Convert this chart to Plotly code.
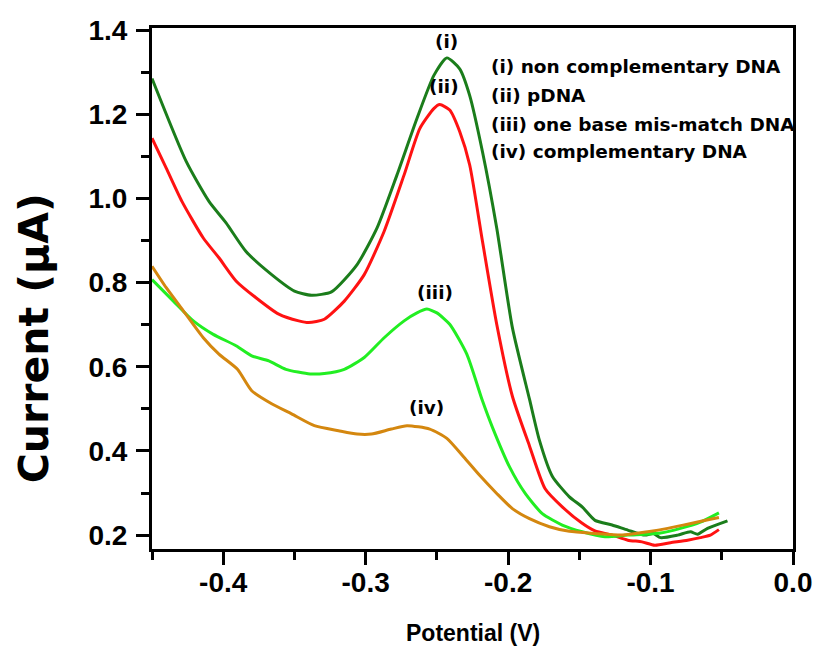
import plotly.graph_objects as go

# ---------------- data ----------------
v_i = [-0.450, -0.426, -0.410, -0.398, -0.384, -0.366, -0.350, -0.338, -0.324, -0.306,
       -0.292, -0.278, -0.264, -0.252, -0.243, -0.234, -0.227, -0.218, -0.208, -0.197,
       -0.185, -0.178, -0.169, -0.157, -0.148, -0.139, -0.127, -0.116, -0.104, -0.098,
       -0.093, -0.081, -0.072, -0.067, -0.060, -0.046]
i_i = [1.285, 1.088, 0.993, 0.942, 0.874, 0.819, 0.780, 0.770, 0.778, 0.843,
       0.930, 1.056, 1.190, 1.293, 1.334, 1.308, 1.245, 1.111, 0.930, 0.693,
       0.523, 0.425, 0.340, 0.291, 0.267, 0.235, 0.224, 0.212, 0.200, 0.204,
       0.194, 0.200, 0.208, 0.202, 0.216, 0.234]

v_ii = [-0.450, -0.440, -0.429, -0.414, -0.403, -0.391, -0.377, -0.361, -0.347, -0.340,
        -0.329, -0.315, -0.301, -0.287, -0.273, -0.262, -0.252, -0.248, -0.241, -0.234,
        -0.227, -0.218, -0.208, -0.197, -0.185, -0.174, -0.162, -0.148, -0.139, -0.127,
        -0.116, -0.106, -0.097, -0.086, -0.074, -0.065, -0.058, -0.052]
i_ii = [1.143, 1.072, 0.993, 0.906, 0.859, 0.804, 0.764, 0.725, 0.709, 0.705,
        0.713, 0.756, 0.819, 0.922, 1.056, 1.166, 1.214, 1.223, 1.210, 1.159,
        1.080, 0.898, 0.701, 0.530, 0.412, 0.310, 0.267, 0.228, 0.210, 0.200,
        0.188, 0.184, 0.176, 0.182, 0.188, 0.194, 0.200, 0.213]

v_iii = [-0.450, -0.435, -0.421, -0.407, -0.391, -0.380, -0.368, -0.356, -0.339, -0.329,
         -0.315, -0.301, -0.287, -0.273, -0.264, -0.257, -0.250, -0.241, -0.229, -0.218,
         -0.211, -0.199, -0.188, -0.176, -0.162, -0.148, -0.132, -0.116, -0.093, -0.079,
         -0.065, -0.052]
i_iii = [0.807, 0.756, 0.709, 0.677, 0.650, 0.626, 0.614, 0.594, 0.583, 0.584,
         0.594, 0.622, 0.669, 0.709, 0.728, 0.737, 0.728, 0.701, 0.630, 0.519,
         0.456, 0.362, 0.299, 0.251, 0.224, 0.208, 0.196, 0.200, 0.205, 0.216,
         0.231, 0.253]

v_iv = [-0.450, -0.440, -0.428, -0.414, -0.403, -0.390, -0.380, -0.366, -0.352, -0.336,
        -0.319, -0.306, -0.296, -0.282, -0.271, -0.255, -0.243, -0.231, -0.220, -0.208,
        -0.197, -0.185, -0.171, -0.157, -0.139, -0.120, -0.102, -0.088, -0.074, -0.063,
        -0.052]
i_iv = [0.839, 0.788, 0.733, 0.669, 0.630, 0.594, 0.543, 0.512, 0.488, 0.460,
        0.448, 0.440, 0.440, 0.452, 0.460, 0.452, 0.430, 0.385, 0.342, 0.299,
        0.263, 0.239, 0.220, 0.209, 0.204, 0.200, 0.208, 0.216, 0.226, 0.234,
        0.242]

series_names = ["(i) non complementary DNA", "(ii) pDNA",
                "(iii) one base mis-match DNA", "(iv) complementary DNA"]
peak_labels = ["(i)", "(ii)", "(iii)", "(iv)"]
peak_label_pos = [(-0.243, 1.372), (-0.245, 1.265), (-0.2516, 0.776), (-0.2574, 0.504)]

x_tickvals = [-0.4, -0.3, -0.2, -0.1, 0.0]
x_ticktext = ["-0.4", "-0.3", "-0.2", "-0.1", "0.0"]
y_tickvals = [0.2, 0.4, 0.6, 0.8, 1.0, 1.2, 1.4]
y_ticktext = ["0.2", "0.4", "0.6", "0.8", "1.0", "1.2", "1.4"]

colors = ["#1b7d1b", "#ff1212", "#22ee22", "#d4870f"]

# ---------------- figure ----------------
fig = go.Figure()
for xs, ys, name, col in [(v_i, i_i, series_names[0], colors[0]),
                          (v_ii, i_ii, series_names[1], colors[1]),
                          (v_iii, i_iii, series_names[2], colors[2]),
                          (v_iv, i_iv, series_names[3], colors[3])]:
    fig.add_trace(go.Scatter(x=xs, y=ys, mode="lines", name=name,
                             line=dict(color=col, width=3, shape="spline", smoothing=0.6),
                             showlegend=False))

tick_font = dict(family="Liberation Sans, Arial", size=28, color="black", weight="bold")
axis_common = dict(showline=True, linewidth=3, linecolor="black", mirror=True,
                   ticks="outside", ticklen=13, tickwidth=3, tickcolor="black",
                   showgrid=False, zeroline=False, tickfont=tick_font,
                   minor=dict(ticks="outside", ticklen=8, tickwidth=3, tickcolor="black",
                              showgrid=False))

fig.update_xaxes(range=[-0.45, 0.0], tickmode="array", tickvals=x_tickvals,
                 ticktext=x_ticktext, minor_dtick=0.05, minor_tick0=0.0,
                 ticklabelstandoff=-7, **axis_common)
fig.update_yaxes(range=[0.167, 1.405], tickmode="array", tickvals=y_tickvals,
                 ticktext=y_ticktext, minor_dtick=0.1, minor_tick0=0.0,
                 ticklabelstandoff=3, **axis_common)

annotations = []
# legend-like text block
legend_y_px = [66.7, 96, 124, 151.7]
for txt, ypx in zip(series_names, legend_y_px):
    annotations.append(dict(text=txt, xref="paper", yref="paper",
                            x=(493 - 152) / 648, y=(549 - ypx) / 521,
                            xanchor="left", yanchor="middle", showarrow=False,
                            font=dict(family="DejaVu Sans", size=18.5, color="black",
                                      weight="bold")))
for lab, (px, py) in zip(peak_labels, peak_label_pos):
    annotations.append(dict(text=lab, x=px, y=py, xref="x", yref="y",
                            xanchor="center", yanchor="middle", showarrow=False,
                            font=dict(family="DejaVu Sans", size=18.5, color="black",
                                      weight="bold")))
# axis titles
annotations.append(dict(text="Current (\u03bcA)", xref="paper", yref="paper",
                        x=(33 - 152) / 648, y=(549 - 338) / 521, textangle=-90,
                        xanchor="center", yanchor="middle", showarrow=False,
                        font=dict(family="DejaVu Sans", size=41, color="black",
                                  weight="bold")))
annotations.append(dict(text="Potential (V)", xref="paper", yref="paper",
                        x=0.5, y=(549 - 633) / 521,
                        xanchor="center", yanchor="middle", showarrow=False,
                        font=dict(family="Liberation Sans, Arial", size=23, color="black",
                                  weight="bold")))

fig.update_layout(width=824, height=649, margin=dict(l=152, r=24, t=28, b=100),
                  paper_bgcolor="white", plot_bgcolor="white",
                  annotations=annotations, showlegend=False)

fig.write_html("out.html")
